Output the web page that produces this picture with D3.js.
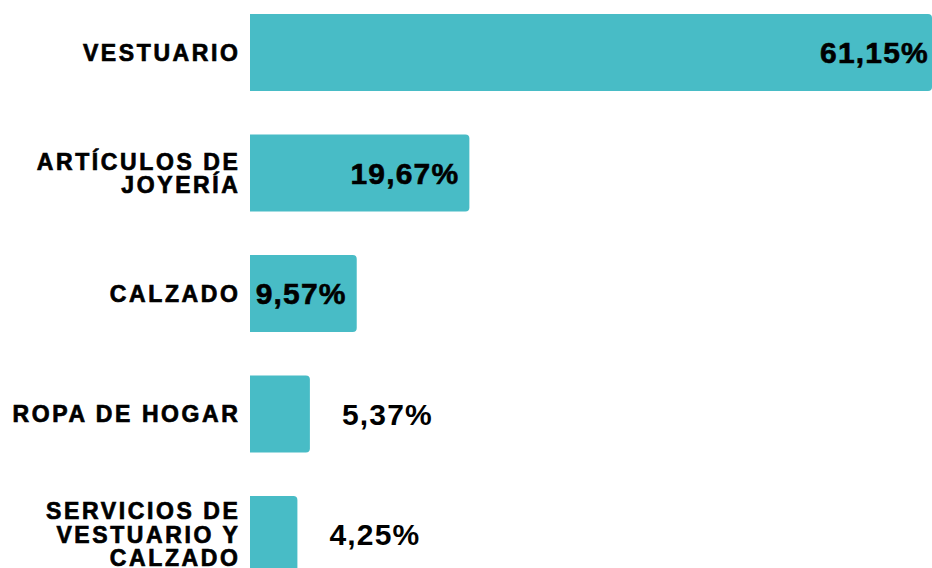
<!DOCTYPE html>
<html>
<head>
<meta charset="utf-8">
<script src="https://cdn.jsdelivr.net/npm/d3@7"></script>
<style>
  body { margin: 0; background: #fff; }
  svg { display: block; }
  .cat { font-family: "Liberation Sans", Arial, sans-serif; font-weight: bold; font-size: 23px; letter-spacing: 2.6px; fill: #000; stroke: #000; stroke-width: 0.7px; }
  .val { font-family: "Liberation Sans", Arial, sans-serif; font-weight: bold; font-size: 30px; letter-spacing: 1.2px; fill: #000; }
</style>
</head>
<body>
<div id="chart"></div>
<script>
// categorías (líneas de cada etiqueta)
const categories = [
  ['VESTUARIO'],
  ['ARTÍCULOS DE', 'JOYERÍA'],
  ['CALZADO'],
  ['ROPA DE HOGAR'],
  ['SERVICIOS DE', 'VESTUARIO Y', 'CALZADO']
]
const values = [61.15, 19.67, 9.57, 5.37, 4.25]
const valueLabels = ['61,15%', '19,67%', '9,57%', '5,37%', '4,25%']

const W = 932, H = 568
const svg = d3.select('#chart').append('svg').attr('width', W).attr('height', H)

const x = d3.scaleLinear().domain([0, 61.15]).range([250, 932])
const y = d3.scaleBand().domain(d3.range(values.length)).range([14, 573]).paddingInner(0.36).paddingOuter(0)

const color = '#48bcc6'
const r = 4

// barras con esquinas derechas redondeadas
function barPath(i){
  const x0 = x(0), x1 = x(values[i]), y0 = y(i), y1 = y(i) + y.bandwidth()
  return `M${x0},${y0}H${x1 - r}Q${x1},${y0} ${x1},${y0 + r}V${y1 - r}Q${x1},${y1} ${x1 - r},${y1}H${x0}Z`
}

svg.selectAll('path.bar').data(values).enter().append('path')
  .attr('class', 'bar')
  .attr('d', (d, i) => barPath(i))
  .attr('fill', color)

// etiquetas de categoría
const lineH = 23.5
categories.forEach((lines, i) => {
  const cy = y(i) + y.bandwidth() / 2
  const t = svg.append('text').attr('class', 'cat').attr('text-anchor', 'end')
  lines.forEach((ln, j) => {
    t.append('tspan')
      .attr('x', x(0) - 9.5)
      .attr('y', cy + (j - (lines.length - 1) / 2) * lineH)
      .attr('dy', '0.36em')
      .text(ln)
  })
})

// valores: dentro de la barra si cabe, fuera si no
values.forEach((v, i) => {
  const cy = y(i) + y.bandwidth() / 2
  const inside = v > 8
  const t = svg.append('text').attr('class', 'val')
    .attr('y', cy).attr('dy', '0.36em')
    .text(valueLabels[i])
  if(inside){
    t.attr('x', x(v) - (v > 50 ? 3 : 10)).attr('text-anchor', 'end')
      .attr('stroke', '#000').attr('stroke-width', 0.6)
  }
  else{
    t.attr('x', x(v) + 32).attr('text-anchor', 'start')
      .attr('stroke', '#fff').attr('stroke-width', 4).attr('paint-order', 'stroke')
      .attr('stroke-linejoin', 'round')
  }
})
</script>
</body>
</html>
